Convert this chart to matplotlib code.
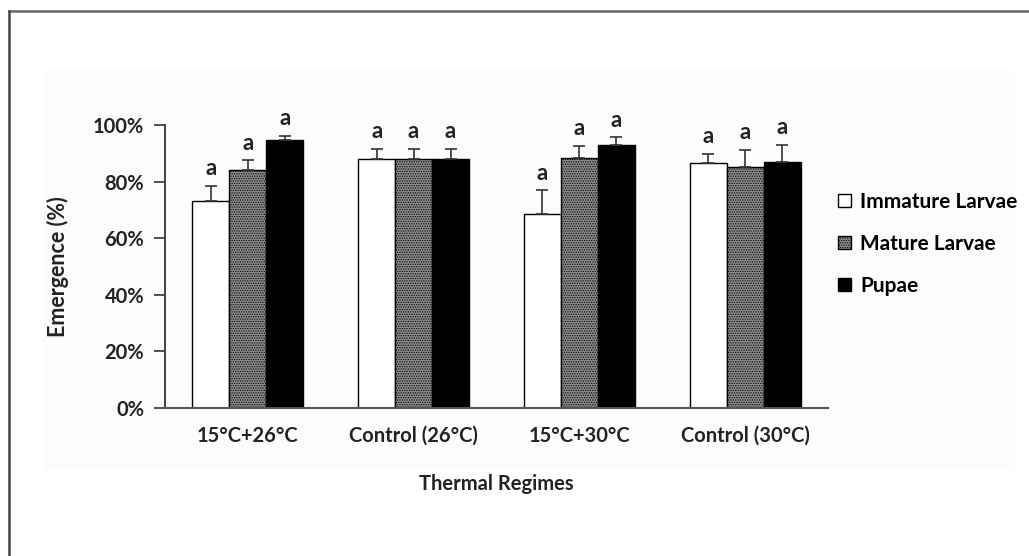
import matplotlib
matplotlib.use("Agg")
import matplotlib.pyplot as plt
import numpy as np
from matplotlib.patches import Patch, Rectangle
from matplotlib.lines import Line2D
from matplotlib.ticker import PercentFormatter

plt.rcParams['font.family'] = ['Lato', 'DejaVu Sans']
plt.rcParams['font.weight'] = 'bold'
plt.rcParams['hatch.linewidth'] = 0.6
plt.rcParams['hatch.color'] = '#5a5a5a'

categories = ["15°C+26°C", "Control (26°C)", "15°C+30°C", "Control (30°C)"]
series = ["Immature Larvae", "Mature Larvae", "Pupae"]
immature = [73, 88, 68.5, 86.5]
mature = [84, 88, 88.2, 85]
pupae = [94.6, 88, 93, 87]
immature_err = [5.4, 3.5, 8.4, 3.4]
mature_err = [3.5, 3.5, 4.4, 6.1]
pupae_err = [1.5, 3.5, 2.6, 6.0]
letters = [["a", "a", "a", "a"], ["a", "a", "a", "a"], ["a", "a", "a", "a"]]
yticks = [0, 20, 40, 60, 80, 100]

W, H = 1029, 556
fig = plt.figure(figsize=(W / 100, H / 100), dpi=100)
fig.patch.set_facecolor('white')

# faint background panel and frame lines
fig.add_artist(Rectangle((43 / W, 1 - 470 / H), (1015 - 43) / W, (470 - 70) / H,
                         transform=fig.transFigure, facecolor='#fcfcfc', edgecolor='none', zorder=0))
fig.add_artist(Line2D([9 / W, 1.0], [1 - 11 / H, 1 - 11 / H], transform=fig.transFigure,
                      color='#666666', lw=1.8))
fig.add_artist(Line2D([9 / W, 9 / W], [0, 1 - 11 / H], transform=fig.transFigure,
                      color='#444444', lw=1.8))

ax = fig.add_axes([165 / W, 1 - 408 / H, (828 - 165) / W, (408 - 125) / H])
ax.set_facecolor('none')

x = np.arange(len(categories))
bw = 0.223
vals = [immature, mature, pupae]
errs = [immature_err, mature_err, pupae_err]
faces = ['white', '#8c8c8c', 'black']
hatches = [None, '.......', None]

for i in range(3):
    pos = x + (i - 1) * bw
    ax.bar(pos, vals[i], bw, color=faces[i], edgecolor='black', linewidth=1.0,
           hatch=hatches[i], zorder=2, label=series[i])
    ax.errorbar(pos, vals[i], yerr=[np.zeros(len(categories)), errs[i]], fmt='none',
                ecolor='#333333', elinewidth=1.2, capsize=4, capthick=1.2, zorder=3)
    for j in range(len(categories)):
        ax.text(pos[j], vals[i][j] + errs[i][j] + 2.4, letters[i][j], ha='center', va='bottom',
                fontsize=16, fontweight='bold', color='#222222')

ax.set_xlim(-0.5, len(categories) - 0.5)
ax.set_ylim(0, 100)
ax.set_yticks(yticks)
ax.yaxis.set_major_formatter(PercentFormatter(decimals=0))
ax.set_xticks(x)
ax.set_xticklabels(categories)
ax.tick_params(axis='x', length=0, pad=13, labelsize=14.5)
ax.tick_params(axis='y', length=8, width=1.2, direction='out', pad=7, labelsize=14.5, color='#333333')
for lab in ax.get_xticklabels() + ax.get_yticklabels():
    lab.set_fontweight('bold')
    lab.set_color('#222222')
for s in ['top', 'right']:
    ax.spines[s].set_visible(False)
ax.spines['left'].set_color('#333333')
ax.spines['left'].set_linewidth(1.3)
ax.spines['bottom'].set_color('#555555')
ax.spines['bottom'].set_linewidth(1.5)

ax.set_xlabel("Thermal Regimes", fontsize=14.5, fontweight='bold', labelpad=20, color='#222222')
ax.set_ylabel("Emergence (%)", fontsize=15.5, fontweight='bold', labelpad=17, color='#222222')

handles = [Patch(facecolor=faces[i], edgecolor='black', hatch=hatches[i], linewidth=1.0)
           for i in range(3)]
fig.legend(handles, series, loc='center left', bbox_to_anchor=(838 / W, 1 - 244 / H),
           frameon=False, handlelength=0.6, handleheight=0.6, borderpad=0, borderaxespad=0,
           handletextpad=0.45, labelspacing=1.05, prop={'weight': 'bold', 'size': 15})

fig.savefig("out.png", dpi=100)
